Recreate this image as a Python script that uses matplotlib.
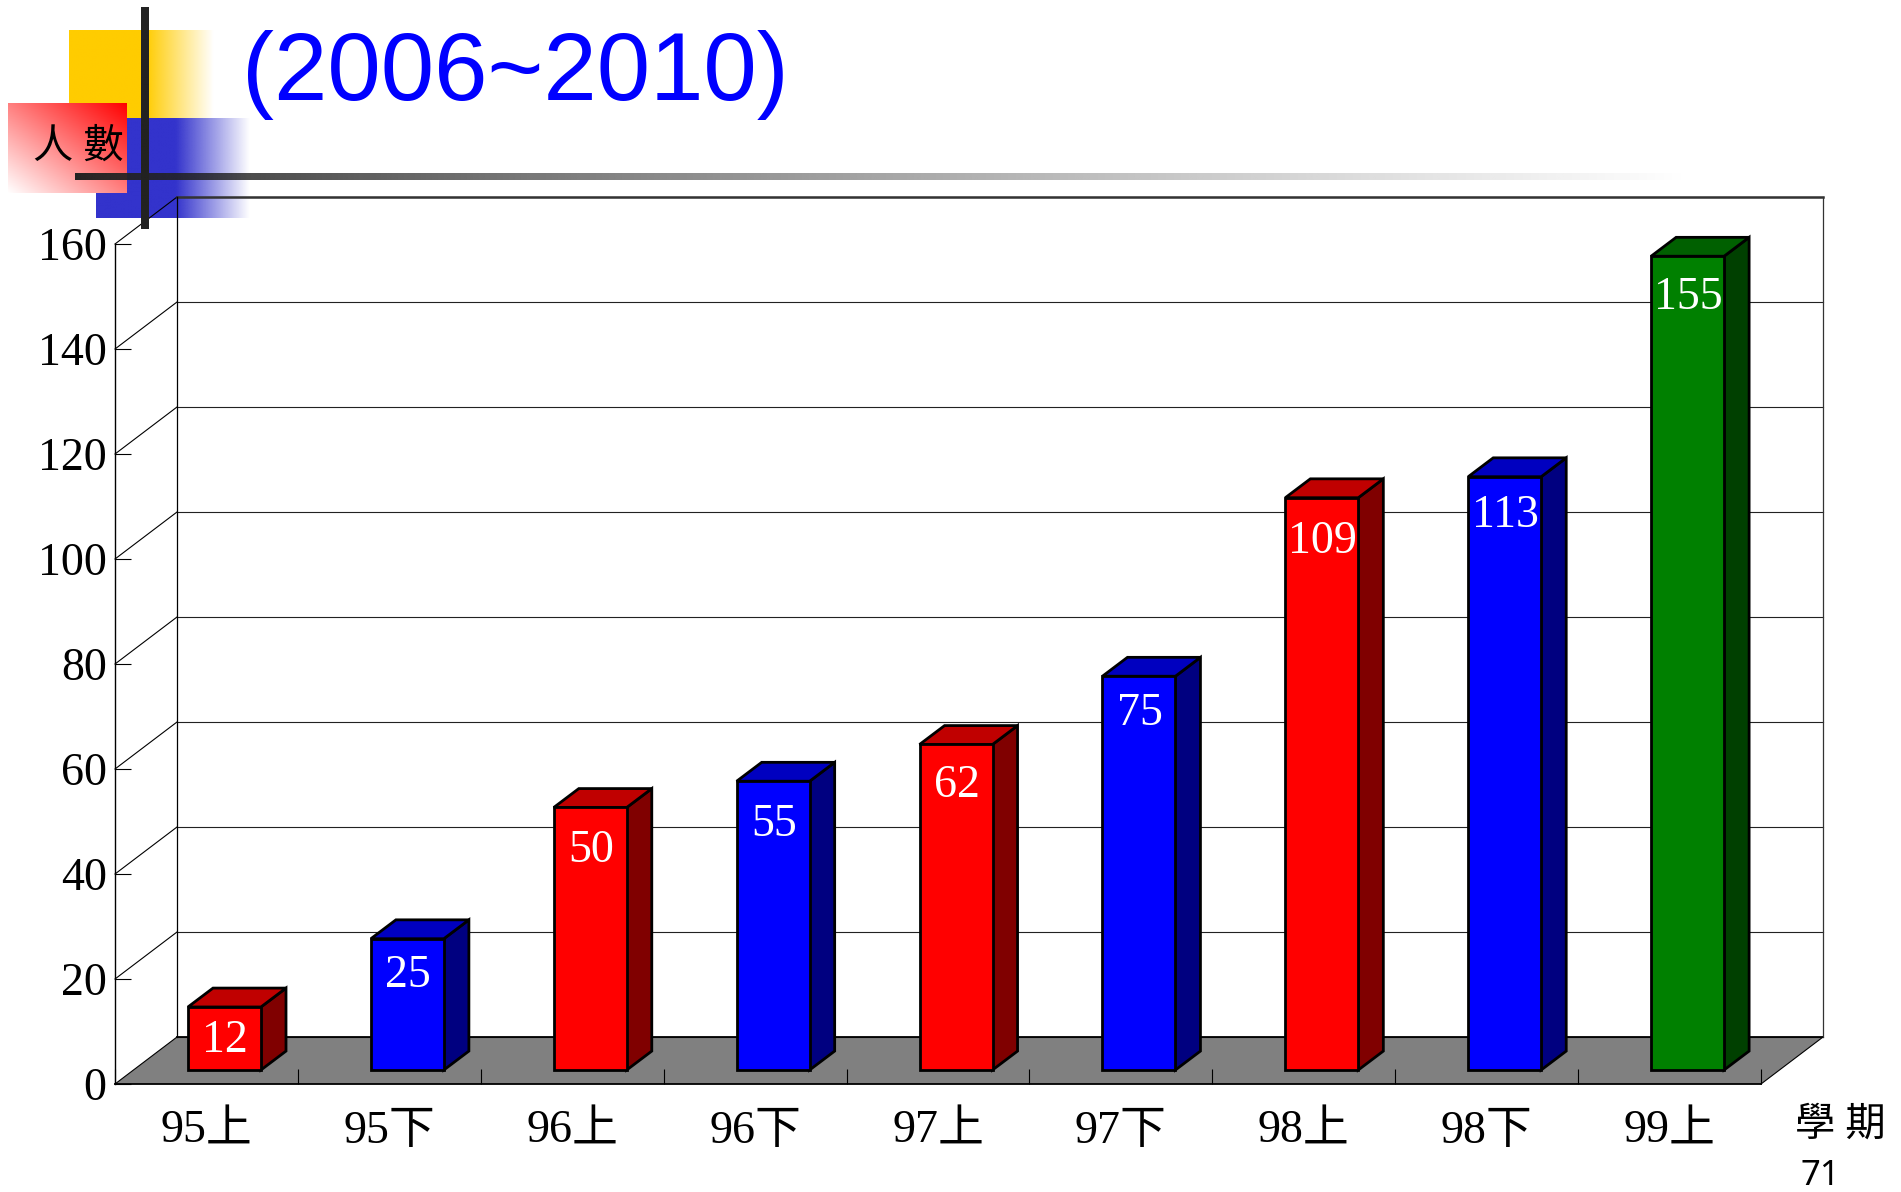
import numpy as np
import matplotlib
matplotlib.use("Agg")
import matplotlib.pyplot as plt

plt.rcParams['font.family'] = ['Liberation Serif', 'Noto Sans CJK TC']

semestres = ['95上', '95下', '96上', '96下', '97上', '97下', '98上', '98下', '99上']
alunos = [12, 25, 50, 55, 62, 75, 109, 113, 155]
cores = ['red', 'blue', 'red', 'blue', 'red', 'blue', 'red', 'blue', 'green']
y_ticks = [0, 20, 40, 60, 80, 100, 120, 140, 160]

# frente, topo, lado
paleta = {
    'red': ('#ff0000', '#c00000', '#800000'),
    'blue': ('#0000ff', '#0000c0', '#000080'),
    'green': ('#008000', '#006000', '#004000'),
}

W, H = 1901, 1192
fig = plt.figure(figsize=(W / 100, H / 100), dpi=100, facecolor='white')


def caixa(x0, y0, x1, y1):
    return [x0 / W, 1 - y1 / H, (x1 - x0) / W, (y1 - y0) / H]


def gradiente(x0, y0, x1, y1, rgba, z):
    a = fig.add_axes(caixa(x0, y0, x1, y1), zorder=z)
    a.imshow(rgba, aspect='auto', interpolation='bilinear')
    a.axis('off')


def fade_horizontal(cor, x0, x1, inicio, expoente=1.0):
    # cor solida ate "inicio", depois desaparece ate x1
    xs = np.linspace(x0, x1, 400)
    t = np.clip((xs - inicio) / (x1 - inicio), 0, 1) ** expoente
    rgba = np.zeros((1, 400, 4))
    rgba[..., :3] = matplotlib.colors.to_rgb(cor)
    rgba[..., 3] = 1 - t
    return rgba


# decoracao do slide
gradiente(69, 30, 214, 118, fade_horizontal('#ffcc00', 69, 214, 146), 0)
gradiente(96, 118, 250, 218, fade_horizontal('#3333cc', 96, 250, 176), 0)

u, v = np.meshgrid(np.linspace(0, 1, 200), np.linspace(1, 0, 200))
t = (u + v) / 2
caixa_vermelha = np.dstack([np.ones_like(t), 1 - t, 1 - t])
gradiente(8, 103, 127, 193, caixa_vermelha, 0.5)

gradiente(75, 173, 1690, 180, fade_horizontal('#222222', 75, 1690, 75, 0.75), 3)
barra_preta = np.array([[matplotlib.colors.to_rgb('#222222')]])
gradiente(141, 7, 149, 229, barra_preta, 3)

# grafico
ax = fig.add_axes(caixa(115, 244, 1761, 1084), zorder=2)
ax.patch.set_alpha(0)
n = len(semestres)
ax.set_xlim(0, n)
ax.set_ylim(0, 160)

prof_x = 0.339   # profundidade da parede, em categorias
prof_y = 8.95    # profundidade da parede, em alunos
base_y = 2.67    # deslocamento da barra sobre o piso
margem = 0.399
larg = 0.399
barra_x = 0.137  # profundidade da barra
barra_y = 3.6
ajuste_rotulo = [0, -3, -7, -7, -6, -3, -8, -4, -6]  # pontos, rotulos nao ficam todos iguais

ax.fill([0, n, n + prof_x, prof_x], [0, 0, prof_y, prof_y], fc='#808080', ec='none', clip_on=False, zorder=1)

for v in y_ticks:
    ax.plot([0, prof_x], [v, v + prof_y], color='black', lw=0.8, clip_on=False, zorder=1)
    ax.plot([prof_x, n + prof_x], [v + prof_y, v + prof_y], color='#222222', lw=0.8, clip_on=False, zorder=1)
ax.plot([prof_x, n + prof_x], [prof_y, prof_y], color='black', lw=1.3, clip_on=False, zorder=1.5)
ax.plot([prof_x, n + prof_x], [160 + prof_y, 160 + prof_y], color='#333333', lw=1.8, clip_on=False, zorder=1.5)
ax.plot([n, n + prof_x], [0, prof_y], color='black', lw=0.8, clip_on=False, zorder=1.5)
ax.plot([prof_x, prof_x], [prof_y, 160 + prof_y], color='black', lw=0.9, clip_on=False, zorder=1.5)
ax.plot([n + prof_x, n + prof_x], [prof_y, 160 + prof_y], color='#333333', lw=0.9, clip_on=False, zorder=1.5)

for i, (valor, cor) in enumerate(zip(alunos, cores)):
    frente, topo, lado = paleta[cor]
    x0 = i + margem
    x1 = x0 + larg
    y0 = base_y
    y1 = base_y + valor
    estilo = dict(ec='black', lw=2.0, joinstyle='miter', clip_on=False, zorder=3)
    ax.fill([x1, x1 + barra_x, x1 + barra_x, x1], [y0, y0 + barra_y, y1 + barra_y, y1], fc=lado, **estilo)
    ax.fill([x0, x1, x1 + barra_x, x0 + barra_x], [y1, y1, y1 + barra_y, y1 + barra_y], fc=topo, **estilo)
    ax.fill([x0, x1, x1, x0], [y0, y0, y1, y1], fc=frente, **estilo)
    ax.annotate(str(valor), xy=((x0 + x1) / 2, y1), xytext=(0.5, -24 + ajuste_rotulo[i]), textcoords='offset points',
                ha='center', va='center', color='white', fontsize=33, zorder=4, annotation_clip=False)

for lado in ['top', 'right']:
    ax.spines[lado].set_visible(False)
ax.spines['left'].set_linewidth(1.0)
ax.spines['bottom'].set_linewidth(1.3)
ax.spines['left'].set_zorder(2)
ax.spines['bottom'].set_zorder(2)

ax.set_yticks(y_ticks)
ax.tick_params(axis='y', direction='in', length=11.5, width=0.8, pad=6, labelsize=33)
ax.set_xticks(np.arange(n + 1))
ax.set_xticklabels([])
ax.tick_params(axis='x', which='major', direction='in', length=11, width=0.8)
ax.set_xticks(np.arange(n) + 0.5, minor=True)
ax.set_xticklabels(semestres, minor=True)
ax.tick_params(axis='x', which='minor', length=0, pad=19, labelsize=33)

# textos do slide
fig.text(242 / W, 1 - 100 / H, '(2006~2010)', color='#0000ff', fontsize=69,
         family='Liberation Sans', ha='left', va='baseline', zorder=5)
fig.text(78 / W, 1 - 148 / H, '人 數', fontsize=29, ha='center', va='center',
         color='black', zorder=5)
fig.text(1840 / W, 1 - 1126 / H, '學 期', fontsize=29, ha='center', va='center', color='black')
fig.text(1800 / W, 1 - 1185 / H, '71', fontsize=25, family='Noto Sans', ha='left', va='baseline', color='black')

fig.savefig('out.png', dpi=100)
